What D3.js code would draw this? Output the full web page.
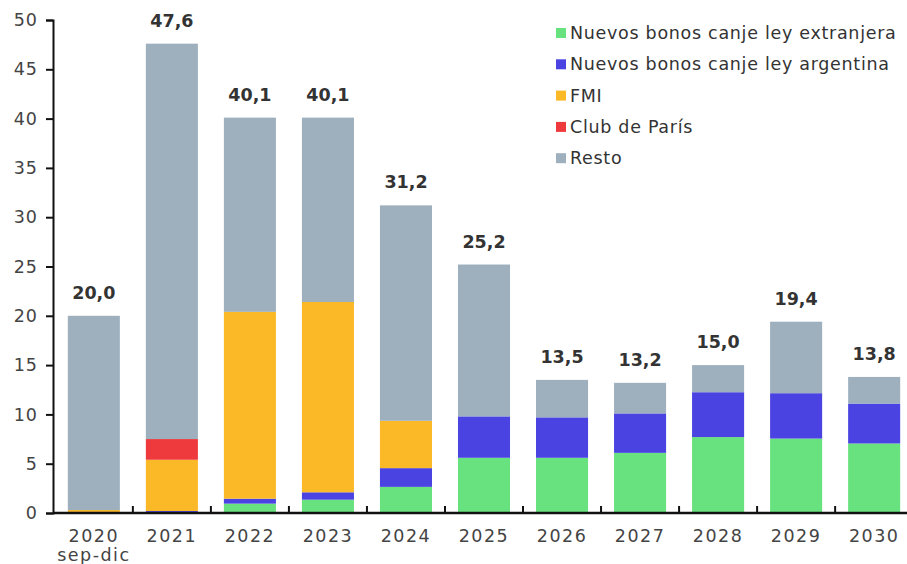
<!DOCTYPE html>
<html><head><meta charset="utf-8">
<script src="https://cdn.jsdelivr.net/npm/d3@7"></script>
<style>body{margin:0;background:#fff}svg{display:block}text{font-family:"DejaVu Sans",sans-serif}</style>
</head><body><svg id="c" width="907" height="564"></svg>
<script>
const categories = ["2020|sep-dic","2021","2022","2023","2024","2025","2026","2027","2028","2029","2030"];
const seriesNames = ["Nuevos bonos canje ley extranjera","Nuevos bonos canje ley argentina","FMI","Club de París","Resto"];
const leyExtranjera = [0, 0.05, 0.95, 1.35, 2.65, 5.6, 5.6, 6.1, 7.7, 7.55, 7.05];
const leyArgentina  = [0, 0.15, 0.5, 0.75, 1.9, 4.2, 4.1, 4.0, 4.55, 4.6, 4.05];
const fmi           = [0.3, 5.2, 18.95, 19.3, 4.8, 0, 0, 0, 0, 0, 0];
const clubParis     = [0, 2.1, 0, 0, 0, 0, 0, 0, 0, 0, 0];
const resto         = [19.7, 40.1, 19.7, 18.7, 21.85, 15.4, 3.8, 3.1, 2.75, 7.25, 2.7];
const totals        = [20.0, 47.6, 40.1, 40.1, 31.2, 25.2, 13.5, 13.2, 15.0, 19.4, 13.8];
const yTicks = [0,5,10,15,20,25,30,35,40,45,50];
const colors = ["#68e27e","#4a43e2","#fbb928","#ee3a3d","#9eb0be"];

const svg = d3.select("#c");
const m = {left:53, top:20, bottom:51};
const W = 907, H = 564;
const x = d3.scaleBand().domain(categories).range([m.left, 915]).paddingInner(0.333).paddingOuter(0.19);
const y = d3.scaleLinear().domain([0,50]).range([H - m.bottom, m.top]);

const rows = categories.map((c,i)=>({cat:c, s0:leyExtranjera[i], s1:leyArgentina[i], s2:fmi[i], s3:clubParis[i], s4:resto[i]}));
const stack = d3.stack().keys(["s0","s1","s2","s3","s4"])(rows);

svg.append("g").selectAll("g").data(stack).join("g").attr("fill",(d,i)=>colors[i])
  .selectAll("rect").data(d=>d).join("rect")
  .attr("x",d=>x(d.data.cat)).attr("width",x.bandwidth())
  .attr("y",d=>y(d[1])).attr("height",d=>Math.max(0,y(d[0])-y(d[1])));

// y axis
const ya = svg.append("g").attr("transform",`translate(${m.left},0)`)
  .call(d3.axisLeft(y).tickValues(yTicks).tickSize(7).tickPadding(7).tickFormat(d3.format("d")));
ya.select(".domain").attr("stroke","#111").attr("stroke-width",2);
ya.selectAll(".tick line").attr("stroke","#111").attr("stroke-width",2);
ya.selectAll("text").attr("font-size",17.5).attr("fill","#444").attr("font-family","DejaVu Sans").attr("letter-spacing",1).attr("dx",-1);

// x axis
const y0 = y(0);
svg.append("line").attr("x1",m.left).attr("x2",W).attr("y1",y0).attr("y2",y0).attr("stroke","#111").attr("stroke-width",2.5);
const step = x.step();
categories.slice(1).forEach(c=>{
  const bx = x(c) - (step - x.bandwidth())/2;
  svg.append("line").attr("x1",bx).attr("x2",bx).attr("y1",y0).attr("y2",y0-7).attr("stroke","#111").attr("stroke-width",2);
});
const xl = svg.append("g");
categories.forEach(c=>{
  const parts = c.split("|");
  const t = xl.append("text").attr("x",x(c)+x.bandwidth()/2).attr("y",y0+29).attr("text-anchor","middle")
    .attr("font-size",17.5).attr("letter-spacing",1.5).attr("fill","#444");
  parts.forEach((p,k)=>t.append("tspan").attr("x",x(c)+x.bandwidth()/2).attr("dy",k?19:0).text(p));
});

// totals
svg.append("g").selectAll("text").data(categories).join("text")
  .attr("x",c=>x(c)+x.bandwidth()/2).attr("y",(c,i)=>y(totals[i])-17)
  .attr("text-anchor","middle").attr("font-size",17.5).attr("font-weight","bold").attr("fill","#333")
  .text((c,i)=>d3.format(".1f")(totals[i]).replace(".",","));

// legend
const lg = svg.append("g").attr("transform","translate(556,33)");
seriesNames.forEach((n,i)=>{
  const g = lg.append("g").attr("transform",`translate(0,${i*31.3})`);
  g.append("rect").attr("x",0).attr("y",-5).attr("width",10).attr("height",10).attr("fill",colors[i]);
  g.append("text").attr("x",14).attr("y",6).attr("font-size",17.5).attr("letter-spacing",0.7).attr("fill","#333").text(n);
});
</script></body></html>
